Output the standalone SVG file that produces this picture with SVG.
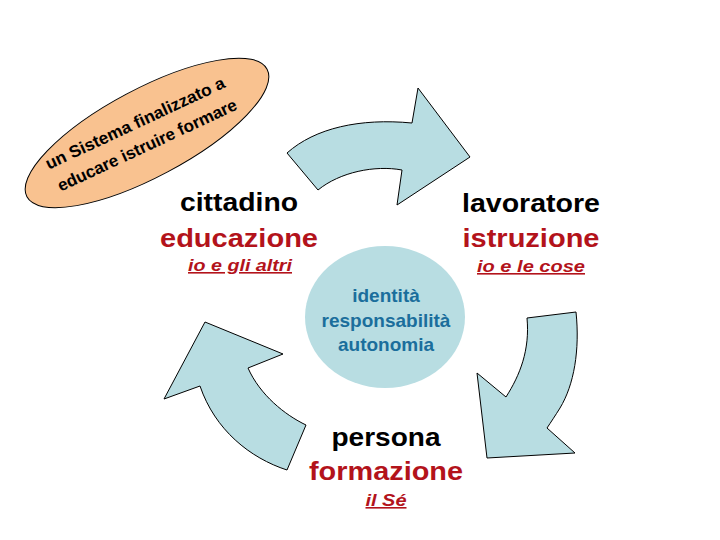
<svg xmlns="http://www.w3.org/2000/svg" width="720" height="540" viewBox="0 0 720 540">
<style>
.arrow{fill:#B8DDE2;stroke:#000;stroke-width:1;stroke-linejoin:miter}
.big{font-family:"Liberation Sans",Arial,sans-serif;font-weight:bold;font-size:25px;text-anchor:middle}
.blk{fill:#000}
.red{fill:#B3131B}
.sub{font-family:"Liberation Sans",Arial,sans-serif;font-weight:bold;font-style:italic;font-size:16px;text-anchor:middle;fill:#B3131B;text-decoration:underline}
.core{font-family:"Liberation Sans",Arial,sans-serif;font-weight:bold;font-size:19px;text-anchor:middle;fill:#1B6E9C}
.ell{font-family:"Liberation Sans",Arial,sans-serif;font-weight:bold;font-size:17px;text-anchor:middle;fill:#000}
</style>
<rect width="720" height="540" fill="#fff"/>
<g id="motto">
<ellipse cx="147" cy="133" rx="136" ry="44" transform="rotate(-28 147 133)" fill="#F9C290" stroke="#000" stroke-width="1"/>
<text class="ell" transform="translate(135,123) rotate(-25)" y="6" textLength="196" lengthAdjust="spacingAndGlyphs">un Sistema finalizzato a</text>
<text class="ell" transform="translate(147,145) rotate(-25)" y="6" textLength="196" lengthAdjust="spacingAndGlyphs">educare istruire formare</text>
</g>
<g id="connectors">
<path class="arrow" d="M287,153 C315,128 360,118 412,123 L418,88 L470,157 L397,205 L402,170 C375,165 340,172 318,190 Z"/>
<path class="arrow" d="M527,318 L576,312 C580,350 574,385 560,408 C555,416 551,422 547,428 L575,453 L487,458 L477,373 L506,397 C520,375 530,350 527,318 Z"/>
<path class="arrow" d="M287,470 L306,425 C285,415 260,395 248,368 L283,354 L205,322 L164,399 L200,386 C215,430 250,458 287,470 Z"/>
</g>
<g id="core">
<ellipse cx="385" cy="317" rx="80" ry="71" fill="#B8DDE2"/>
<text class="core" x="386" y="302">identità</text>
<text class="core" x="386" y="327">responsabilità</text>
<text class="core" x="386" y="351">autonomia</text>
</g>
<g id="cittadino">
<text class="big blk" x="239" y="211" textLength="118" lengthAdjust="spacingAndGlyphs">cittadino</text>
<text class="big red" x="239" y="247" textLength="158" lengthAdjust="spacingAndGlyphs">educazione</text>
<text class="sub" x="240" y="271" textLength="104" lengthAdjust="spacingAndGlyphs">io e gli altri</text>
</g>
<g id="lavoratore">
<text class="big blk" x="531" y="212" textLength="138" lengthAdjust="spacingAndGlyphs">lavoratore</text>
<text class="big red" x="531" y="247" textLength="137" lengthAdjust="spacingAndGlyphs">istruzione</text>
<text class="sub" x="531" y="272" textLength="108" lengthAdjust="spacingAndGlyphs">io e le cose</text>
</g>
<g id="persona">
<text class="big blk" x="386" y="446" textLength="109" lengthAdjust="spacingAndGlyphs">persona</text>
<text class="big red" x="386" y="480" textLength="154" lengthAdjust="spacingAndGlyphs">formazione</text>
<text class="sub" x="386" y="506" textLength="41" lengthAdjust="spacingAndGlyphs">il Sé</text>
</g>
</svg>
